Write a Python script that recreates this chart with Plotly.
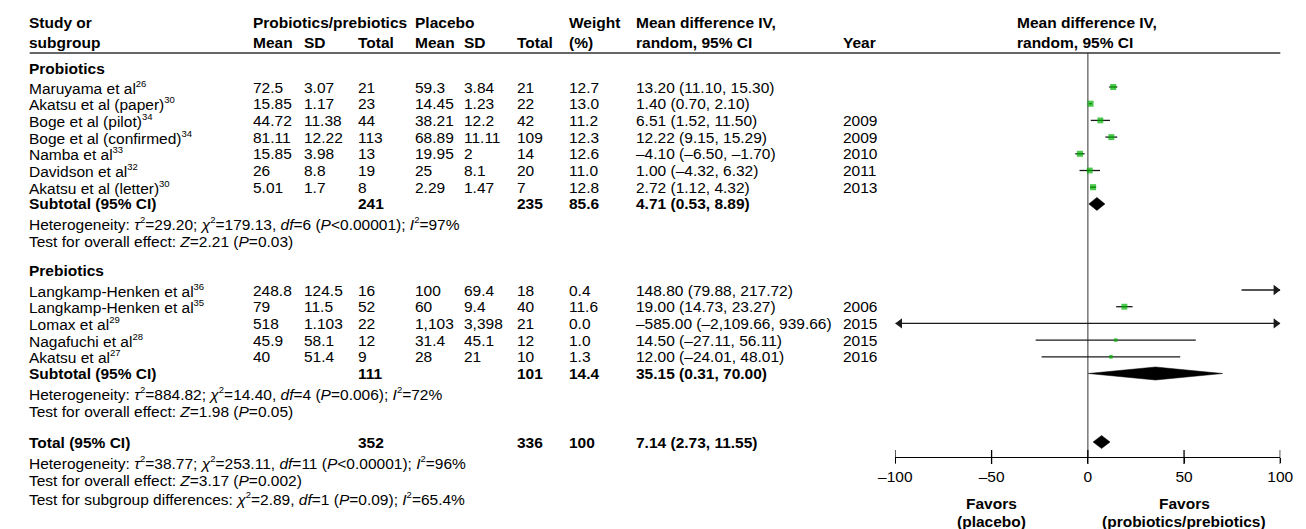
import plotly.graph_objects as go

W, H = 1306, 529

# ---------------- data ----------------
pro_names = ["Maruyama et al", "Akatsu et al (paper)", "Boge et al (pilot)",
             "Boge et al (confirmed)", "Namba et al", "Davidson et al",
             "Akatsu et al (letter)"]
pro_refs = ["26", "30", "34", "34", "33", "32", "30"]
pro_exp_mean = ["72.5", "15.85", "44.72", "81.11", "15.85", "26", "5.01"]
pro_exp_sd = ["3.07", "1.17", "11.38", "12.22", "3.98", "8.8", "1.7"]
pro_exp_n = [21, 23, 44, 113, 13, 19, 8]
pro_ctl_mean = ["59.3", "14.45", "38.21", "68.89", "19.95", "25", "2.29"]
pro_ctl_sd = ["3.84", "1.23", "12.2", "11.11", "2", "8.1", "1.47"]
pro_ctl_n = [21, 22, 42, 109, 14, 20, 7]
pro_weight = [12.7, 13.0, 11.2, 12.3, 12.6, 11.0, 12.8]
pro_md = [13.20, 1.40, 6.51, 12.22, -4.10, 1.00, 2.72]
pro_lo = [11.10, 0.70, 1.52, 9.15, -6.50, -4.32, 1.12]
pro_hi = [15.30, 2.10, 11.50, 15.29, -1.70, 6.32, 4.32]
pro_year = ["", "", "2009", "2009", "2010", "2011", "2013"]

pre_names = ["Langkamp-Henken et al", "Langkamp-Henken et al", "Lomax et al",
             "Nagafuchi et al", "Akatsu et al"]
pre_refs = ["36", "35", "29", "28", "27"]
pre_exp_mean = ["248.8", "79", "518", "45.9", "40"]
pre_exp_sd = ["124.5", "11.5", "1.103", "58.1", "51.4"]
pre_exp_n = [16, 52, 22, 12, 9]
pre_ctl_mean = ["100", "60", "1,103", "31.4", "28"]
pre_ctl_sd = ["69.4", "9.4", "3,398", "45.1", "21"]
pre_ctl_n = [18, 40, 21, 12, 10]
pre_weight = [0.4, 11.6, 0.0, 1.0, 1.3]
pre_md = [148.80, 19.00, -585.00, 14.50, 12.00]
pre_lo = [79.88, 14.73, -2109.66, -27.11, -24.01]
pre_hi = [217.72, 23.27, 939.66, 56.11, 48.01]
pre_year = ["", "2006", "2015", "2015", "2016"]

pro_sub = dict(n_exp=241, n_ctl=235, weight=85.6, md=4.71, lo=0.53, hi=8.89)
pre_sub = dict(n_exp=111, n_ctl=101, weight=14.4, md=35.15, lo=0.31, hi=70.00)
overall = dict(n_exp=352, n_ctl=336, weight=100, md=7.14, lo=2.73, hi=11.55)


def sup(s):
    return f'<sup><span style="font-size:9.5px">{s}</span></sup>'


pro_stats = [
    f"Heterogeneity: <i>τ</i>{sup(2)}=29.20; <i>χ</i>{sup(2)}=179.13, "
    f"<i>df</i>=6 (<i>P</i>&lt;0.00001); <i>I</i>{sup(2)}=97%",
    "Test for overall effect: <i>Z</i>=2.21 (<i>P</i>=0.03)",
]
pre_stats = [
    f"Heterogeneity: <i>τ</i>{sup(2)}=884.82; <i>χ</i>{sup(2)}=14.40, "
    f"<i>df</i>=4 (<i>P</i>=0.006); <i>I</i>{sup(2)}=72%",
    "Test for overall effect: <i>Z</i>=1.98 (<i>P</i>=0.05)",
]
total_stats = [
    f"Heterogeneity: <i>τ</i>{sup(2)}=38.77; <i>χ</i>{sup(2)}=253.11, "
    f"<i>df</i>=11 (<i>P</i>&lt;0.00001); <i>I</i>{sup(2)}=96%",
    "Test for overall effect: <i>Z</i>=3.17 (<i>P</i>=0.002)",
    f"Test for subgroup differences: <i>χ</i>{sup(2)}=2.89, "
    f"<i>df</i>=1 (<i>P</i>=0.09); <i>I</i>{sup(2)}=65.4%",
]

axis_ticks = [-100, -50, 0, 50, 100]
axis_ticktext = ["–100", "–50", "0", "50", "100"]

# ---------------- layout constants (pixels) ----------------
FONT = "Liberation Sans, Arial, Helvetica, sans-serif"
FS = 15.5
COL = dict(name=13, em=242, esd=295, en=350, cm=408, csd=458, cn=513,
           wt=566, ci=634, yr=846, fp=1024)
X_PAD = 3                       # annotation box padding offset
HDR_Y = (22, 42)
RULE_Y = 53
STEP = 16.7
PRO_HDR_Y = 68
PRO_Y0 = 87
PRE_HDR_Y = 270
PRE_Y0 = 290
TOTAL_Y = 442
AXIS_Y = 457
FP_X0, FP_X1 = 899, 1293       # pixel span of the forest axis (-100..100)
XMIN, XMAX = -100, 100
UNITS_PER_PX = (XMAX - XMIN) / (FP_X1 - FP_X0)
ARROW = 9                       # arrowhead size in px
GREEN = "rgb(0,178,0)"
LINE_C = "#1a1a1a"

annotations = []


def txt(px, y, s, bold=False, anchor="left", size=FS):
    if bold:
        s = "<b>" + s + "</b>"
    xoff = -X_PAD if anchor == "left" else 0
    annotations.append(dict(
        x=(px + xoff) / W, xref="paper", y=y, yref="y", text=s,
        showarrow=False, xanchor=anchor, yanchor="middle",
        font=dict(family=FONT, size=size, color="black")))


def fmt_ci(md, lo, hi):
    f = lambda v: f"{v:,.2f}".replace("-", "–")
    return f"{f(md)} ({f(lo)}, {f(hi)})"


# header
txt(COL["name"], HDR_Y[0], "Study or", bold=True)
txt(COL["name"], HDR_Y[1], "subgroup", bold=True)
txt(COL["em"], HDR_Y[0], "Probiotics/prebiotics", bold=True)
txt(COL["cm"], HDR_Y[0], "Placebo", bold=True)
for key, lab in [("em", "Mean"), ("esd", "SD"), ("en", "Total"),
                 ("cm", "Mean"), ("csd", "SD"), ("cn", "Total")]:
    txt(COL[key], HDR_Y[1], lab, bold=True)
txt(COL["wt"], HDR_Y[0], "Weight", bold=True)
txt(COL["wt"], HDR_Y[1], "(%)", bold=True)
txt(COL["ci"], HDR_Y[0], "Mean difference IV,", bold=True)
txt(COL["ci"], HDR_Y[1], "random, 95% CI", bold=True)
txt(COL["yr"], HDR_Y[1], "Year", bold=True)
txt(COL["fp"], HDR_Y[0], "Mean difference IV,", bold=True)
txt(COL["fp"], HDR_Y[1], "random, 95% CI", bold=True)

traces = []


def arrowhead(xv, y, symbol):
    # pull the marker centre inward so the tip sits on the axis end
    shift = ARROW / 2 * UNITS_PER_PX
    xc = xv - shift if symbol == "triangle-right" else xv + shift
    traces.append(go.Scatter(x=[xc], y=[y], mode="markers",
                             marker=dict(symbol=symbol, size=ARROW,
                                         color=LINE_C, line=dict(width=0)),
                             hoverinfo="skip", showlegend=False))


def add_group(title, hdr_y, y0, names, refs, em, esd, en, cm, csd, cn,
              wt, md, lo, hi, yr, sub, stats):
    txt(COL["name"], hdr_y, title, bold=True)
    ys = [y0 + i * STEP for i in range(len(names))]
    for i, y in enumerate(ys):
        txt(COL["name"], y, f"{names[i]}{sup(refs[i])}")
        txt(COL["em"], y, em[i])
        txt(COL["esd"], y, esd[i])
        txt(COL["en"], y, str(en[i]))
        txt(COL["cm"], y, cm[i])
        txt(COL["csd"], y, csd[i])
        txt(COL["cn"], y, str(cn[i]))
        txt(COL["wt"], y, f"{wt[i]:.1f}")
        txt(COL["ci"], y, fmt_ci(md[i], lo[i], hi[i]))
        if yr[i]:
            txt(COL["yr"], y, yr[i])
        # confidence interval line, clipped to the axis range
        a, b = max(lo[i], XMIN), min(hi[i], XMAX)
        traces.append(go.Scatter(x=[a, b], y=[y, y], mode="lines",
                                 line=dict(color=LINE_C, width=1.3),
                                 hoverinfo="skip", showlegend=False))
        if lo[i] < XMIN:
            arrowhead(XMIN, y, "triangle-left")
        if hi[i] > XMAX:
            arrowhead(XMAX, y, "triangle-right")
    # study point estimates (square size follows weight)
    px_ = [m for m in md if XMIN <= m <= XMAX]
    py_ = [ys[i] for i, m in enumerate(md) if XMIN <= m <= XMAX]
    ps_ = [2.5 + w ** 0.5 for w, m in zip(wt, md) if XMIN <= m <= XMAX]
    traces.append(go.Scatter(x=px_, y=py_, mode="markers",
                             marker=dict(symbol="square", size=ps_, color=GREEN,
                                         line=dict(width=0)),
                             hoverinfo="skip", showlegend=False))
    sy = y0 + len(names) * STEP
    add_summary(sy, sub, "Subtotal (95% CI)")
    txt(COL["name"], sy + 20, stats[0])
    txt(COL["name"], sy + 38, stats[1])


def add_summary(y, s, label, wfmt="{:.1f}"):
    txt(COL["name"], y, label, bold=True)
    txt(COL["en"], y, str(s["n_exp"]), bold=True)
    txt(COL["cn"], y, str(s["n_ctl"]), bold=True)
    txt(COL["wt"], y, wfmt.format(s["weight"]), bold=True)
    txt(COL["ci"], y, fmt_ci(s["md"], s["lo"], s["hi"]), bold=True)
    h = 6.5
    traces.append(go.Scatter(
        x=[s["lo"], s["md"], s["hi"], s["md"], s["lo"]],
        y=[y, y - h, y, y + h, y], mode="lines", fill="toself",
        fillcolor="black", line=dict(color="black", width=0.5),
        hoverinfo="skip", showlegend=False))


# line of no effect
traces.append(go.Scatter(x=[0, 0], y=[RULE_Y, AXIS_Y], mode="lines",
                         line=dict(color="#7f7f7f", width=1.6),
                         hoverinfo="skip", showlegend=False))

add_group("Probiotics", PRO_HDR_Y, PRO_Y0, pro_names, pro_refs, pro_exp_mean,
          pro_exp_sd, pro_exp_n, pro_ctl_mean, pro_ctl_sd, pro_ctl_n,
          pro_weight, pro_md, pro_lo, pro_hi, pro_year, pro_sub, pro_stats)
add_group("Prebiotics", PRE_HDR_Y, PRE_Y0, pre_names, pre_refs, pre_exp_mean,
          pre_exp_sd, pre_exp_n, pre_ctl_mean, pre_ctl_sd, pre_ctl_n,
          pre_weight, pre_md, pre_lo, pre_hi, pre_year, pre_sub, pre_stats)

add_summary(TOTAL_Y, overall, "Total (95% CI)", wfmt="{:g}")
for k, s in enumerate(total_stats):
    txt(COL["name"], TOTAL_Y + 20 + k * 18, s)

# tick marks crossing the axis line
traces.append(go.Scatter(x=axis_ticks, y=[AXIS_Y] * len(axis_ticks),
                         mode="markers",
                         marker=dict(symbol="line-ns", size=10,
                                     line=dict(color="black", width=1.3)),
                         hoverinfo="skip", showlegend=False))

# favours labels
for xv, l1, l2 in [(-50, "Favors", "(placebo)"),
                   (50, "Favors", "(probiotics/prebiotics)")]:
    for yy, s in [(503, l1), (521, l2)]:
        annotations.append(dict(x=xv, xref="x", y=yy, yref="y",
                                text=f"<b>{s}</b>", showarrow=False,
                                xanchor="center", yanchor="middle",
                                font=dict(family=FONT, size=FS, color="black")))

fig = go.Figure(traces)

fig.update_layout(
    width=W, height=H, margin=dict(l=0, r=0, t=0, b=0),
    paper_bgcolor="white", plot_bgcolor="white",
    font=dict(family=FONT, size=FS, color="black"),
    xaxis=dict(domain=[FP_X0 / W, FP_X1 / W], range=[XMIN, XMAX],
               anchor="free", position=1 - AXIS_Y / H,
               showline=True, linecolor="black", linewidth=1.3,
               ticks="outside", ticklen=5, tickwidth=1.3, tickcolor="black",
               tickvals=axis_ticks, ticktext=axis_ticktext,
               ticklabeloverflow="allow",
               tickfont=dict(family=FONT, size=FS, color="black"),
               showgrid=False, zeroline=False, fixedrange=True),
    yaxis=dict(domain=[0, 1], range=[H, 0], visible=False, fixedrange=True),
    shapes=[dict(type="line", xref="paper", yref="y",
                 x0=COL["name"] / W, x1=FP_X1 / W, y0=RULE_Y, y1=RULE_Y,
                 line=dict(color="#333333", width=1.5))],
    annotations=annotations,
    showlegend=False,
)

fig.write_html("out.html")
